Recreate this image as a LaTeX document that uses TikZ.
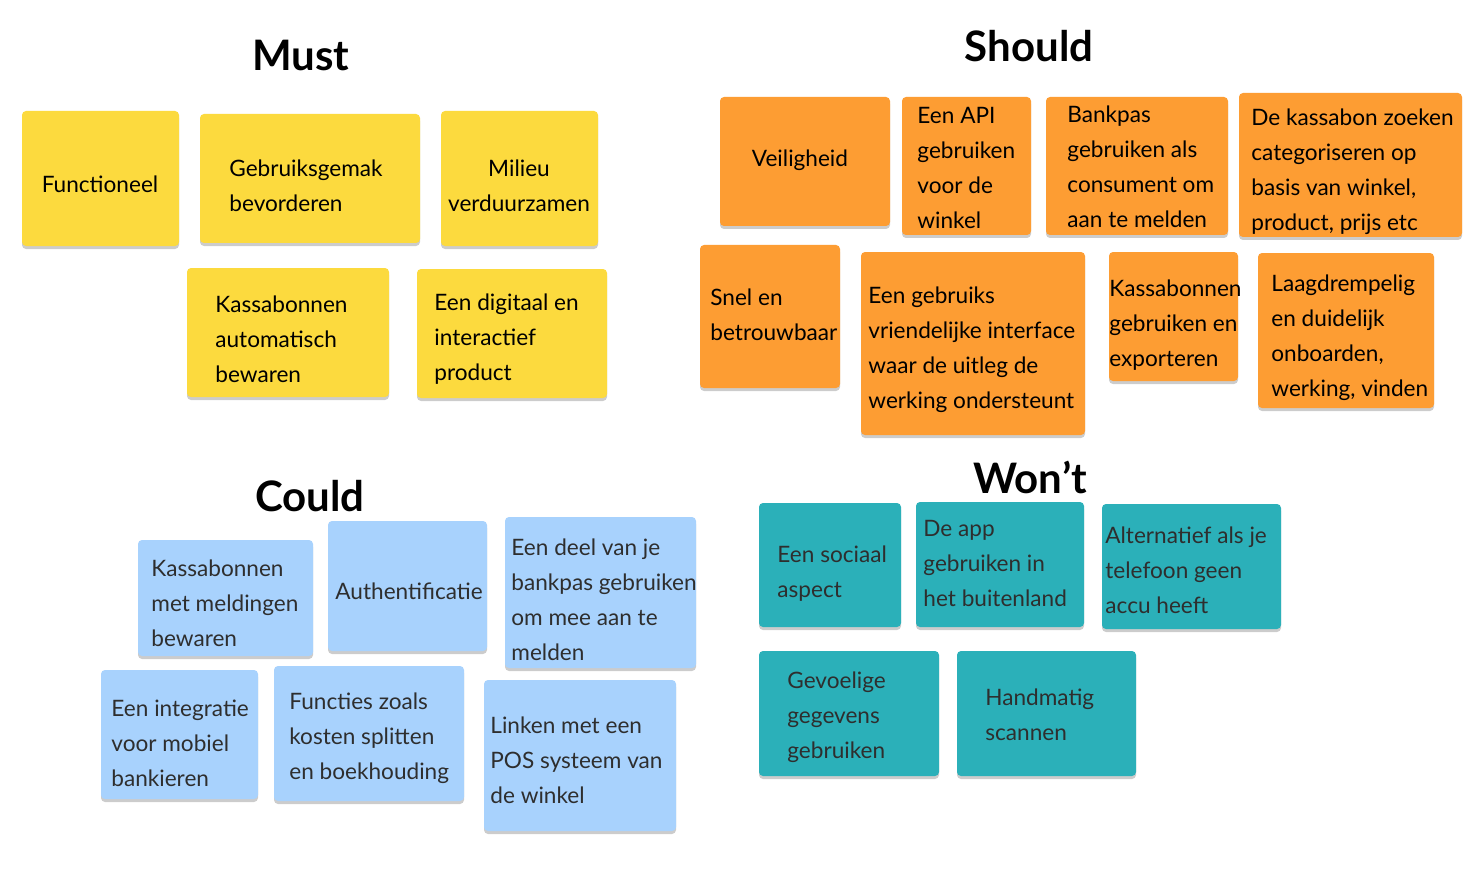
\documentclass[tikz,border=0pt]{standalone}
\usepackage{fontspec}
\setmainfont{Lato}
\usetikzlibrary{fit,shadows}
\definecolor{mustc}{HTML}{FCDA3E}
\definecolor{shouldc}{HTML}{FD9D33}
\definecolor{couldc}{HTML}{A8D2FD}
\definecolor{wontc}{HTML}{2BB0B9}
\definecolor{textdark}{HTML}{2E2E2E}
\newcommand\notefont{\fontsize{11.3}{17.5}\selectfont}
\newcommand\headfont{\fontsize{21}{24}\selectfont\bfseries}
\tikzset{
  note/.style={draw=none, rounded corners=2pt, inner sep=0pt,
    drop shadow={shadow xshift=0pt, shadow yshift=-1.5pt, opacity=0.2, fill=black}},
  mustnote/.style={note, fill=mustc},
  shouldnote/.style={note, fill=shouldc},
  couldnote/.style={note, fill=couldc},
  wontnote/.style={note, fill=wontc},
  txt/.style={font=\notefont, align=left, inner sep=0pt, anchor=west, text=black, yshift=-0.3pt},
  dtxt/.style={txt, text=textdark},
  head/.style={font=\headfont, inner sep=0pt, anchor=center}
}
\begin{document}
\begin{tikzpicture}[x=0.5pt, y=-0.5pt]
\useasboundingbox (0,0) rectangle (1474,872);
\fill[white] (0,0) rectangle (1474,872);

% Headings
\node[head] (hmust) at (301,55) {Must};
\node[head] (hshould) at (1029,46) {Should};
\node[head] (hcould) at (310,496) {Could};
\node[head] (hwont) at (1030,477) {Won’t};

% Must
\node[mustnote, fit={(22,111)(179,246)}] (must1) {};
\node[txt, anchor=center] (must1t) at (100,184) {Functioneel};
\node[mustnote, fit={(200,114)(420,243)}] (must2) {};
\node[txt] (must2t) at (229,185.5) {Gebruiksgemak\\bevorderen};
\node[mustnote, fit={(441,111)(598,246)}] (must3) {};
\node[txt, align=center, anchor=center] (must3t) at (519,185.5) {Milieu\\verduurzamen};
\node[mustnote, fit={(187,268)(389,397)}] (must4) {};
\node[txt] (must4t) at (215,339) {Kassabonnen\\automatisch\\bewaren};
\node[mustnote, fit={(417,269)(607,398)}] (must5) {};
\node[txt] (must5t) at (434,339) {Een digitaal en\\interactief\\product};

% Should
\node[shouldnote, fit={(720,97)(890,226)}] (should1) {};
\node[txt, anchor=center] (should1t) at (800,160) {Veiligheid};
\node[shouldnote, fit={(902,97)(1031,235)}] (should2) {};
\node[txt] (should2t) at (917,167.5) {Een API\\gebruiken\\voor de\\winkel};
\node[shouldnote, fit={(1046,97)(1228,235)}] (should3) {};
\node[txt] (should3t) at (1067,166.5) {Bankpas\\gebruiken als\\consument om\\aan te melden};
\node[shouldnote, fit={(1239,93)(1462,237)}] (should4) {};
\node[txt] (should4t) at (1251,171.5) {De kassabon zoeken\\categoriseren op\\basis van winkel,\\product, prijs etc};
\node[shouldnote, fit={(700,245)(840,388)}] (should5) {};
\node[txt] (should5t) at (710,314.5) {Snel en\\betrouwbaar};
\node[shouldnote, fit={(861,252)(1085,435)}] (should6) {};
\node[txt] (should6t) at (868,349.5) {Een gebruiks\\vriendelijke interface\\waar de uitleg de\\werking ondersteunt};
\node[shouldnote, fit={(1109,252)(1238,381)}] (should7) {};
\node[txt] (should7t) at (1109,325) {Kassabonnen\\gebruiken en\\exporteren};
\node[shouldnote, fit={(1258,253)(1434,408)}] (should8) {};
\node[txt] (should8t) at (1271,337.5) {Laagdrempelig\\en duidelijk\\onboarden,\\werking, vinden};

% Could
\node[couldnote, fit={(138,540)(313,656)}] (could1) {};
\node[dtxt] (could1t) at (151,603) {Kassabonnen\\met meldingen\\bewaren};
\node[couldnote, fit={(328,521)(487,651)}] (could2) {};
\node[dtxt] (could2t) at (335,591) {Authentificatie};
\node[couldnote, fit={(505,517)(696,668)}] (could3) {};
\node[dtxt] (could3t) at (511,599.5) {Een deel van je\\bankpas gebruiken\\om mee aan te\\melden};
\node[couldnote, fit={(101,670)(258,799)}] (could4) {};
\node[dtxt] (could4t) at (111,743) {Een integratie\\voor mobiel\\bankieren};
\node[couldnote, fit={(274,666)(464,801)}] (could5) {};
\node[dtxt] (could5t) at (289,738) {Functies zoals\\kosten splitten\\en boekhouding};
\node[couldnote, fit={(484,680)(676,831)}] (could6) {};
\node[dtxt] (could6t) at (490,760) {Linken met een\\POS systeem van\\de winkel};

% Won't
\node[wontnote, fit={(759,503)(901,627)}] (wont1) {};
\node[dtxt] (wont1t) at (777,573.5) {Een sociaal\\aspect};
\node[wontnote, fit={(916,502)(1084,627)}] (wont2) {};
\node[dtxt] (wont2t) at (923,563) {De app\\gebruiken in\\het buitenland};
\node[wontnote, fit={(1102,504)(1281,629)}] (wont3) {};
\node[dtxt] (wont3t) at (1105,570) {Alternatief als je\\telefoon geen\\accu heeft};
\node[wontnote, fit={(759,651)(939,776)}] (wont4) {};
\node[dtxt] (wont4t) at (787,717) {Gevoelige\\gegevens\\gebruiken};
\node[wontnote, fit={(957,651)(1136,776)}] (wont5) {};
\node[dtxt] (wont5t) at (985,714.5) {Handmatig\\scannen};
\end{tikzpicture}
\end{document}
